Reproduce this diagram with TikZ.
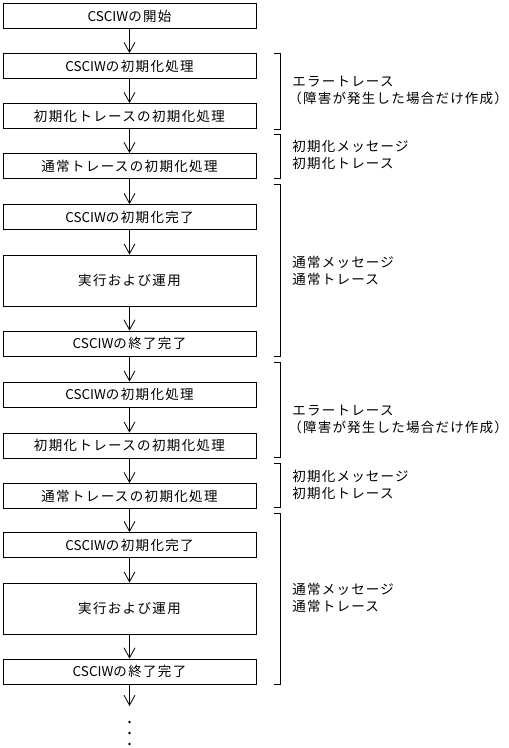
\documentclass[tikz,border=0pt]{standalone}
\usepackage{fontspec}
\setmainfont{Noto Sans CJK JP}[LetterSpace=10]
\newfontfamily\memofont{Noto Sans CJK JP}[LetterSpace=9]
\newfontfamily\namefont{Noto Sans CJK JP}
\newcommand{\csciw}{{\namefont CSCIW}}
\usetikzlibrary{arrows.meta}
\begin{document}
\begin{tikzpicture}[x=1pt,y=-1pt,line width=0.8pt,
  box/.style={draw,minimum width=253pt,minimum height=25pt,inner sep=0pt,font=\fontsize{13.5}{16}\selectfont},
  bigbox/.style={box,minimum height=51pt},
  arr/.style={-{Straight Barb[length=10pt,width=11pt,line width=0.8pt]}},
  memo/.style={anchor=west,align=left,inner sep=0pt,font=\memofont\fontsize{13.5}{17}\selectfont}]
\useasboundingbox (0,0) rectangle (509,748);
% 処理の流れ
\node[box] (b1) at (129.5,16) {\csciw の開始};
\node[box] (b2) at (129.5,66) {\csciw の初期化処理};
\node[box] (b3) at (129.5,116) {初期化トレースの初期化処理};
\node[box] (b4) at (129.5,166) {通常トレースの初期化処理};
\node[box] (b5) at (129.5,217) {\csciw の初期化完了};
\node[bigbox] (b6) at (129.5,280.5) {実行および運用};
\node[box] (b7) at (129.5,343.5) {\csciw の終了完了};
\node[box] (b8) at (129.5,394.5) {\csciw の初期化処理};
\node[box] (b9) at (129.5,445.5) {初期化トレースの初期化処理};
\node[box] (b10) at (129.5,496) {通常トレースの初期化処理};
\node[box] (b11) at (129.5,545) {\csciw の初期化完了};
\node[bigbox] (b12) at (129.5,608.5) {実行および運用};
\node[box] (b13) at (129.5,671.5) {\csciw の終了完了};
\coordinate (e) at (129.5,706);
\draw[arr] (b1) -- (b2);
\draw[arr] (b2) -- (b3);
\draw[arr] (b3) -- (b4);
\draw[arr] (b4) -- (b5);
\draw[arr] (b5) -- (b6);
\draw[arr] (b6) -- (b7);
\draw[arr] (b7) -- (b8);
\draw[arr] (b8) -- (b9);
\draw[arr] (b9) -- (b10);
\draw[arr] (b10) -- (b11);
\draw[arr] (b11) -- (b12);
\draw[arr] (b12) -- (b13);
\draw[arr] (b13) -- (e);
\fill (129.5,722) circle (1.4);
\fill (129.5,733) circle (1.4);
\fill (129.5,744) circle (1.4);
% 出力される情報
\draw (274,53) -- (280,53) -- (280,129) -- (274,129);
\draw (274,134) -- (280,134) -- (280,178) -- (274,178);
\draw (274,184) -- (280,184) -- (280,356) -- (274,356);
\draw (274,362) -- (280,362) -- (280,457) -- (274,457);
\draw (274,463) -- (280,463) -- (280,507) -- (274,507);
\draw (274,513) -- (280,513) -- (280,684) -- (274,684);
\node[memo] (m1) at (292,90) {エラートレース\\\hspace*{-4pt}（障害が発生した場合だけ作成）};
\node[memo] (m2) at (292,155) {初期化メッセージ\\初期化トレース};
\node[memo] (m3) at (292,270.5) {通常メッセージ\\通常トレース};
\node[memo] (m4) at (292,419) {エラートレース\\\hspace*{-4pt}（障害が発生した場合だけ作成）};
\node[memo] (m5) at (292,485) {初期化メッセージ\\初期化トレース};
\node[memo] (m6) at (292,598) {通常メッセージ\\通常トレース};
\end{tikzpicture}
\end{document}
